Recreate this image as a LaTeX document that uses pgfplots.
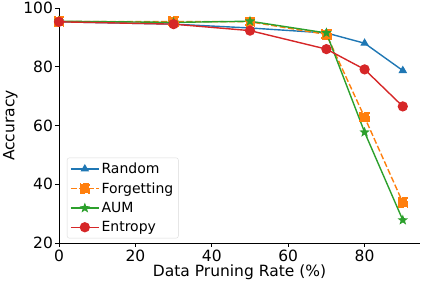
\documentclass[border=0pt]{standalone}
\usepackage{pgfplots}
\pgfplotsset{compat=1.18}
\usepackage{fontspec}
\setmainfont{DejaVu Sans}
\definecolor{tblue}{HTML}{1F77B4}
\definecolor{torange}{HTML}{FF7F0E}
\definecolor{tgreen}{HTML}{2CA02C}
\definecolor{tred}{HTML}{D62728}
\pgfdeclareplotmark{fstar}{%
  \pgfpathmoveto{\pgfpointpolar{90}{\pgfplotmarksize}}%
  \pgfpathlineto{\pgfpointpolar{126}{0.42\pgfplotmarksize}}%
  \pgfpathlineto{\pgfpointpolar{162}{\pgfplotmarksize}}%
  \pgfpathlineto{\pgfpointpolar{198}{0.42\pgfplotmarksize}}%
  \pgfpathlineto{\pgfpointpolar{234}{\pgfplotmarksize}}%
  \pgfpathlineto{\pgfpointpolar{270}{0.42\pgfplotmarksize}}%
  \pgfpathlineto{\pgfpointpolar{306}{\pgfplotmarksize}}%
  \pgfpathlineto{\pgfpointpolar{342}{0.42\pgfplotmarksize}}%
  \pgfpathlineto{\pgfpointpolar{18}{\pgfplotmarksize}}%
  \pgfpathlineto{\pgfpointpolar{54}{0.42\pgfplotmarksize}}%
  \pgfpathclose
  \pgfusepathqfillstroke}
\begin{document}
\begin{tikzpicture}[x=1pt,y=1pt]
\path[use as bounding box] (-59,-45) rectangle (367,243);
\begin{axis}[
  at={(0,0)}, anchor=south west,
  scale only axis, width=361pt, height=235pt,
  xmin=0, xmax=94.5, ymin=20, ymax=100,
  axis lines*=left,
  axis line style={-, line width=0.8pt},
  tick style={black, line width=0.8pt},
  tick align=outside, major tick length=4pt,
  xtick={0,20,40,60,80}, ytick={20,40,60,80,100},
  /pgf/number format/assume math mode=true,
  ticklabel style={font=\fontsize{15.5}{17}\selectfont},
  xticklabel style={yshift=1pt},
  yticklabel style={xshift=1.5pt},
  label style={font=\fontsize{15.5}{18}\selectfont},
  xlabel={Data Pruning Rate (\%)},
  ylabel={Accuracy},
  xlabel style={yshift=3pt},
  ylabel style={yshift=-1pt},
  legend cell align=left,
  legend style={at={(0.022,0.02)}, anchor=south west, draw=black!15, rounded corners=2pt,
    font=\fontsize{14}{16}\selectfont, row sep=3.5pt, inner sep=3pt},
  legend image code/.code={\draw[mark repeat=2,mark phase=2] plot coordinates {(0pt,0pt)(14pt,0pt)(28pt,0pt)};},
  every axis plot/.append style={line width=1.4pt, mark options={draw=white, line width=0.5pt, solid}},
]
\addplot[color=tblue, mark=triangle*, mark size=3.6pt, mark options={fill=tblue}] coordinates {(0,95.3) (30,94.5) (50,93.2) (70,91.5) (80,88) (90,78.7)};
\addlegendentry{Random}
\addplot[color=torange, dash pattern=on 6pt off 2.5pt, mark=square*, mark size=4.5pt, mark options={fill=torange}] coordinates {(0,95.4) (30,95.4) (50,95.3) (70,91.0) (80,62.8) (90,33.8)};
\addlegendentry{Forgetting}
\addplot[color=tgreen, mark=fstar, mark size=3.5pt, mark options={fill=tgreen}] coordinates {(0,95.5) (30,95.1) (50,95.5) (70,91.5) (80,57.7) (90,27.8)};
\addlegendentry{AUM}
\addplot[color=tred, mark=*, mark size=4.4pt, mark options={fill=tred}] coordinates {(0,95.3) (30,94.5) (50,92.3) (70,86) (80,79.1) (90,66.5)};
\addlegendentry{Entropy}
\end{axis}
\end{tikzpicture}
\end{document}
